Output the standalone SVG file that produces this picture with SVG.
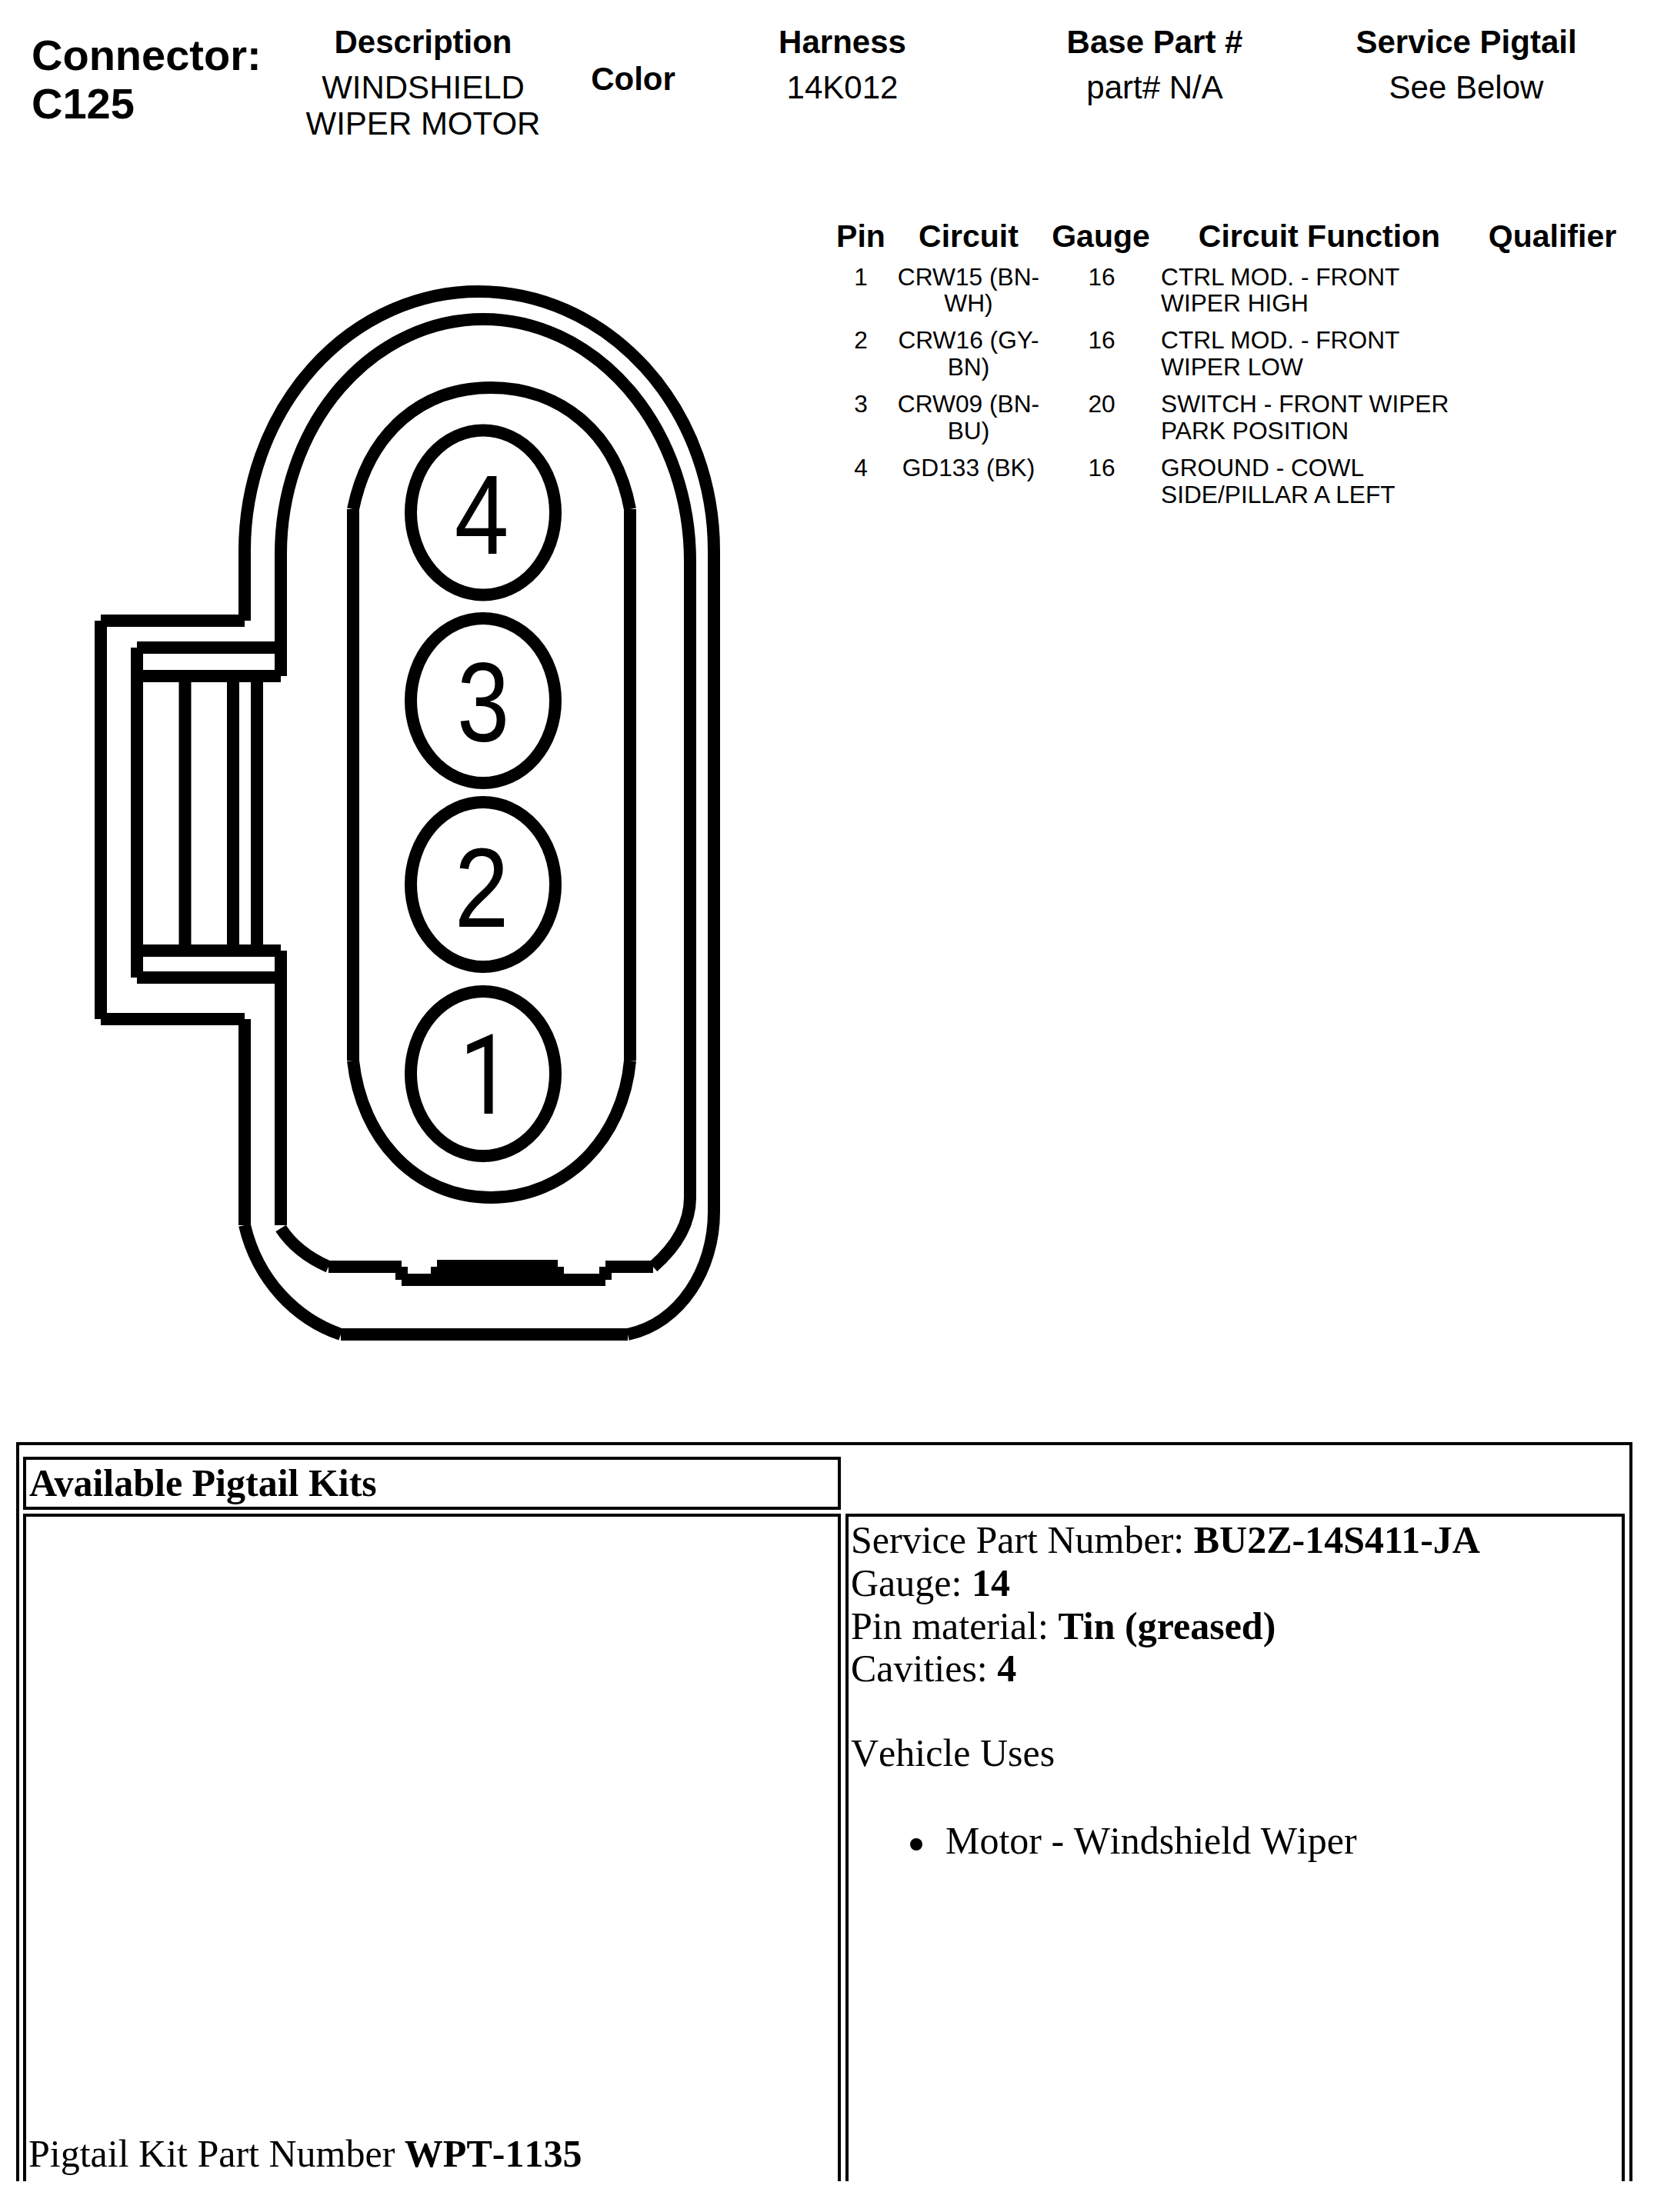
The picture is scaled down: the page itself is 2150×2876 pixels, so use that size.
<svg xmlns="http://www.w3.org/2000/svg" width="2150" height="2876" viewBox="0 0 2150 2876">
<style>
text{fill:#000}
.s{font-family:"Liberation Sans",Arial,sans-serif}
.b{font-weight:700}
.h{font-size:42px;text-anchor:middle}
.t{font-size:41px;font-weight:700;text-anchor:middle}
.r{font-size:31.700px}
.m{text-anchor:middle}
.d{font-size:146px;text-anchor:middle}
.f{font-family:"Liberation Serif","Times New Roman",serif;font-size:50px}
.nk{font-kerning:none}
.l{fill:none;stroke:#000;stroke-width:16}
.k{fill:none;stroke:#000;stroke-width:4}
</style>
<rect width="2150" height="2876" fill="#fff"/>
<g id="header" class="s">
<text class="b" x="41" y="91" font-size="56">Connector:</text>
<text class="b" x="41" y="154" font-size="56">C125</text>
<text class="h b" x="550" y="69">Description</text>
<text class="h" x="550" y="128">WINDSHIELD</text>
<text class="h" x="550" y="175">WIPER MOTOR</text>
<text class="h b" x="823" y="117">Color</text>
<text class="h b" x="1095" y="69">Harness</text>
<text class="h" x="1095" y="128">14K012</text>
<text class="h b" x="1501" y="69">Base Part #</text>
<text class="h" x="1501" y="128">part# N/A</text>
<text class="h b" x="1906" y="69">Service Pigtail</text>
<text class="h" x="1906" y="128">See Below</text>
</g>
<g id="pin-table" class="s">
<text class="t" x="1119" y="321">Pin</text>
<text class="t" x="1259" y="321">Circuit</text>
<text class="t" x="1431" y="321">Gauge</text>
<text class="t" x="1715" y="321">Circuit Function</text>
<text class="t" x="2018" y="321">Qualifier</text>
<g class="r">
<text class="m" x="1119" y="371">1</text><text class="m" x="1259" y="371">CRW15 (BN-</text><text class="m" x="1259" y="405">WH)</text><text class="m" x="1432" y="371">16</text><text x="1509" y="371">CTRL MOD. - FRONT</text><text x="1509" y="405">WIPER HIGH</text>
<text class="m" x="1119" y="453">2</text><text class="m" x="1259" y="453">CRW16 (GY-</text><text class="m" x="1259" y="488">BN)</text><text class="m" x="1432" y="453">16</text><text x="1509" y="453">CTRL MOD. - FRONT</text><text x="1509" y="488">WIPER LOW</text>
<text class="m" x="1119" y="536">3</text><text class="m" x="1259" y="536">CRW09 (BN-</text><text class="m" x="1259" y="571">BU)</text><text class="m" x="1432" y="536">20</text><text x="1509" y="536">SWITCH - FRONT WIPER</text><text x="1509" y="571">PARK POSITION</text>
<text class="m" x="1119" y="619">4</text><text class="m" x="1259" y="619">GD133 (BK)</text><text class="m" x="1432" y="619">16</text><text x="1509" y="619">GROUND - COWL</text><text x="1509" y="654">SIDE/PILLAR A LEFT</text>
</g>
</g>
<g id="connector-body">
<path class="l" d="M318,807V754M318,754V716A304,337 0 0 1 622,379A306,337 0 0 1 928,716V1576M928,1576C928,1650 885,1720 816,1735M816,1735H443M443,1735C385,1715 335,1665 318,1593M318,1593V1325M318,1325H131M131,1325V807M131,807H318"/>
<path class="l" d="M365,842V754M365,754V720A263,305 0 0 1 628,415A269,315 0 0 1 897,730V1557M897,1557C897,1590 880,1620 849,1647M849,1647H787M787,1647V1664M787,1664H522M522,1664V1647M522,1647H427M427,1647C400,1635 380,1620 365,1597M365,1593V1271M365,1271H178M178,1271V842M178,842H365"/>
<path class="l" d="M178,879H365M365,842V879M178,1236H365M365,1236V1271M240.500,879V1236M303,879V1236M334,879V1236"/>
<path d="M560,1647H568V1638H725V1647H733V1668H560Z"/>
<path class="l" d="M459,662V1379M819,662V1379M459,662C480,560 550,504 638,504S800,560 819,662M459,1379C470,1480 540,1557 638,1557S810,1480 819,1379"/>
</g>
<g id="pin-4"><ellipse class="l" cx="628" cy="666.500" rx="94" ry="107"/><text class="s d" transform="translate(626 720) scale(.87 1)">4</text></g>
<g id="pin-3"><ellipse class="l" cx="628" cy="911" rx="94" ry="107"/><text class="s d" transform="translate(628 964) scale(.84 1)">3</text></g>
<g id="pin-2"><ellipse class="l" cx="628" cy="1150" rx="94" ry="107"/><text class="s d" transform="translate(626 1205) scale(.87 1)">2</text></g>
<g id="pin-1"><ellipse class="l" cx="628" cy="1396" rx="94" ry="107"/><text font-family="Roboto,sans-serif" font-size="144" transform="translate(597 1448) scale(.85 1)">1</text></g>
<g id="pigtail-table">
<path class="k" d="M23,2836V1877H2120V2836M32,2836V1970H1091V2836M1101,2836V1970H2110V2836"/>
<rect class="k" x="32" y="1896" width="1059" height="65"/>
<text class="f b" x="38" y="1945">Available Pigtail Kits</text>
<text class="f" x="1106" y="2019">Service Part Number: <tspan class="b">BU2Z-14S411-JA</tspan></text>
<text class="f" x="1106" y="2075">Gauge: <tspan class="b">14</tspan></text>
<text class="f" x="1106" y="2131">Pin material: <tspan class="b">Tin (greased)</tspan></text>
<text class="f" x="1106" y="2186">Cavities: <tspan class="b">4</tspan></text>
<text class="f nk" x="1106" y="2296">Vehicle Uses</text>
<circle cx="1191" cy="2398" r="8"/>
<text class="f nk" x="1229" y="2410">Motor - Windshield Wiper</text>
<text class="f nk" x="37" y="2817">Pigtail Kit Part Number <tspan class="b">WPT-1135</tspan></text>
</g>
</svg>
